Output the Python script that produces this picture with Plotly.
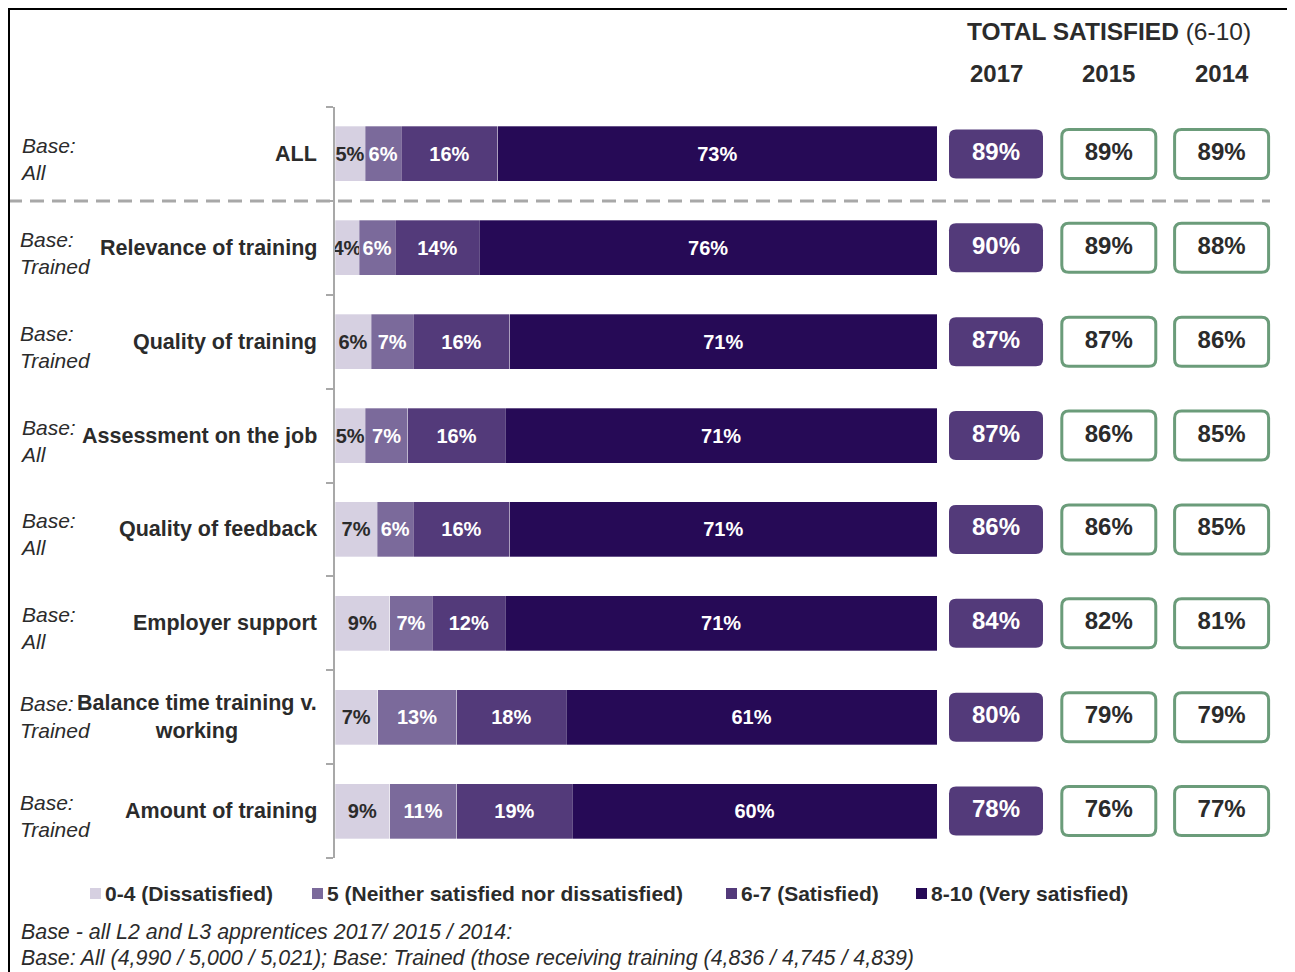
import plotly.graph_objects as go

# --- data ---
CATEGORIES = ["ALL", "Relevance of training", "Quality of training", "Assessment on the job",
              "Quality of feedback", "Employer support", "Balance time training v.<br>working",
              "Amount of training"]
BASES = ["All", "Trained", "Trained", "All", "All", "All", "Trained", "Trained"]

DISSATISFIED = [5, 4, 6, 5, 7, 9, 7, 9]          # 0-4
NEITHER = [6, 6, 7, 7, 6, 7, 13, 11]             # 5
SATISFIED = [16, 14, 16, 16, 16, 12, 18, 19]     # 6-7
VERY_SATISFIED = [73, 76, 71, 71, 71, 71, 61, 60]  # 8-10

YEARS = ["2017", "2015", "2014"]
TOTAL_2017 = [89, 90, 87, 87, 86, 84, 80, 78]
TOTAL_2015 = [89, 89, 87, 86, 86, 82, 79, 76]
TOTAL_2014 = [89, 88, 86, 85, 85, 81, 79, 77]

FOOTNOTES = ["Base - all L2 and L3 apprentices 2017/ 2015 / 2014:",
             "Base: All (4,990 / 5,000 / 5,021); Base: Trained (those receiving training (4,836 / 4,745 / 4,839)"]

# --- palette ---
C_04 = "#D6D0E1"
C_5 = "#7B6A9B"
C_67 = "#533A7A"
C_810 = "#260A56"
GREEN = "#6B9C7A"
TEXT = "#2B2B2B"
GREY = "#A8A8A8"
FONT = "Liberation Sans, Arial, sans-serif"

W, H = 1295, 972
OFF = 8  # page body margin


def px(x):
    return (x - OFF) / W


def py(y):
    return 1 - (y - OFF) / H


rows = list(range(len(CATEGORIES)))

fig = go.Figure()

series = [("0-4 (Dissatisfied)", DISSATISFIED, C_04, TEXT),
          ("5 (Neither satisfied nor dissatisfied)", NEITHER, C_5, "white"),
          ("6-7 (Satisfied)", SATISFIED, C_67, "white"),
          ("8-10 (Very satisfied)", VERY_SATISFIED, C_810, "white")]
for name, vals, col, tcol in series:
    fig.add_trace(go.Bar(
        y=rows, x=vals, name=name, orientation="h", showlegend=False,
        marker=dict(color=col, line=dict(color="rgba(255,255,255,0.5)", width=0.6)),
        text=[f"{v}%" for v in vals], textposition="inside", insidetextanchor="middle",
        textangle=0,
        textfont=dict(color=tcol, size=20, family=FONT, weight="bold"),
        xaxis="x", yaxis="y", hoverinfo="skip"))

# --- total satisfied boxes (right panel) ---
X2_L, X2_R = 939.6, 1278
px_x = (X2_R - X2_L) / 3
px_y = (858 - 107) / 8
hw, hh = 47 / px_x, 24.5 / px_y
rx, ry = 7 / px_x, 7 / px_y


def rounded(cx, cy):
    x0, x1, y0, y1 = cx - hw, cx + hw, cy - hh, cy + hh
    return (f"M {x0+rx},{y0} L {x1-rx},{y0} Q {x1},{y0} {x1},{y0+ry} "
            f"L {x1},{y1-ry} Q {x1},{y1} {x1-rx},{y1} L {x0+rx},{y1} "
            f"Q {x0},{y1} {x0},{y1-ry} L {x0},{y0+ry} Q {x0},{y0} {x0+rx},{y0} Z")


shapes = []
for j, (yr, vals) in enumerate(zip(YEARS, [TOTAL_2017, TOTAL_2015, TOTAL_2014])):
    cx = j + 0.5
    filled = j == 0
    for i in rows:
        shapes.append(dict(type="path", path=rounded(cx, i), xref="x2", yref="y", layer="below",
                           fillcolor=C_67 if filled else "white",
                           line=dict(color=C_67 if filled else GREEN, width=0 if filled else 3)))
    fig.add_trace(go.Scatter(
        x=[cx] * len(vals), y=rows, mode="text", text=[f"{v}%" for v in vals],
        textfont=dict(color="white" if filled else TEXT, size=24, family=FONT, weight="bold"),
        xaxis="x2", yaxis="y", showlegend=False, hoverinfo="skip", cliponaxis=False))

# dashed separator under ALL + outer frame
shapes.append(dict(type="line", xref="paper", yref="y", x0=px(8), x1=px(1270), y0=0.5, y1=0.5,
                   line=dict(color=GREY, width=3, dash="14px,8px")))
shapes.append(dict(type="rect", xref="paper", yref="paper", x0=1 / W, x1=px(1290),
                   y0=-0.05, y1=1 - 1 / H, line=dict(color="black", width=2)))

anns = []
anns.append(dict(xref="x2", yref="paper", x=1.5, y=py(31), yanchor="middle", showarrow=False,
                 text="<b>TOTAL SATISFIED</b> (6-10)", font=dict(size=24.5, color=TEXT)))
for j, yr in enumerate(YEARS):
    anns.append(dict(xref="x2", yref="paper", x=j + 0.5, y=py(73), yanchor="middle",
                     showarrow=False, text=f"<b>{yr}</b>", font=dict(size=24, color=TEXT)))

for i, (cat, base) in enumerate(zip(CATEGORIES, BASES)):
    anns.append(dict(xref="paper", yref="y", x=px(319), y=i, xanchor="right", yanchor="middle",
                     showarrow=False, align="center", text=cat,
                     font=dict(size=21.5, color=TEXT, weight="bold")))
    anns.append(dict(xref="paper", yref="y", x=px(18), y=i, xanchor="left", yanchor="middle",
                     showarrow=False, align="left", text=f"Base:<br>{base}",
                     yshift=0 if "<br>" in cat else -5,
                     font=dict(size=21, color=TEXT, style="italic")))

# legend row (square + label, placed like the original)
LEGEND_X = [90, 312, 726, 916]
for (name, _, col, _), lx in zip(series, LEGEND_X):
    shapes.append(dict(type="rect", xref="paper", yref="paper", x0=px(lx), x1=px(lx + 11),
                       y0=py(899), y1=py(888), fillcolor=col, line=dict(width=0)))
    anns.append(dict(xref="paper", yref="paper", x=px(lx + 13), y=py(893), xanchor="left",
                     yanchor="middle", showarrow=False, text=name,
                     font=dict(size=21, color=TEXT, weight="bold")))

for k, note in enumerate(FOOTNOTES):
    anns.append(dict(xref="paper", yref="paper", x=px(19), y=py(932 + 26 * k),
                     xanchor="left", yanchor="middle", showarrow=False, text=note,
                     font=dict(size=21.4, color=TEXT, style="italic")))

fig.update_layout(
    width=W, height=H, autosize=False,
    margin=dict(l=0, r=0, t=0, b=0),
    paper_bgcolor="white", plot_bgcolor="rgba(0,0,0,0)",
    font=dict(family=FONT, color=TEXT),
    barmode="stack", barnorm="percent", bargap=0.415,
    uniformtext=dict(minsize=20, mode="show"),
    showlegend=False,
    xaxis=dict(domain=[px(335), px(937)], range=[0, 100], visible=False, fixedrange=True),
    xaxis2=dict(domain=[px(X2_L), px(X2_R)], range=[0, 3], visible=False, anchor="y"),
    yaxis=dict(domain=[py(858), py(107)], range=[7.5, -0.5], showgrid=False,
               zeroline=False, showticklabels=False, showline=True, linecolor=GREY, linewidth=1.5,
               tickmode="array", tickvals=[r - 0.5 for r in rows] + [7.5],
               ticks="outside", ticklen=7, tickcolor=GREY, tickwidth=1.5),
    shapes=shapes, annotations=anns)

fig.write_html("out.html")
